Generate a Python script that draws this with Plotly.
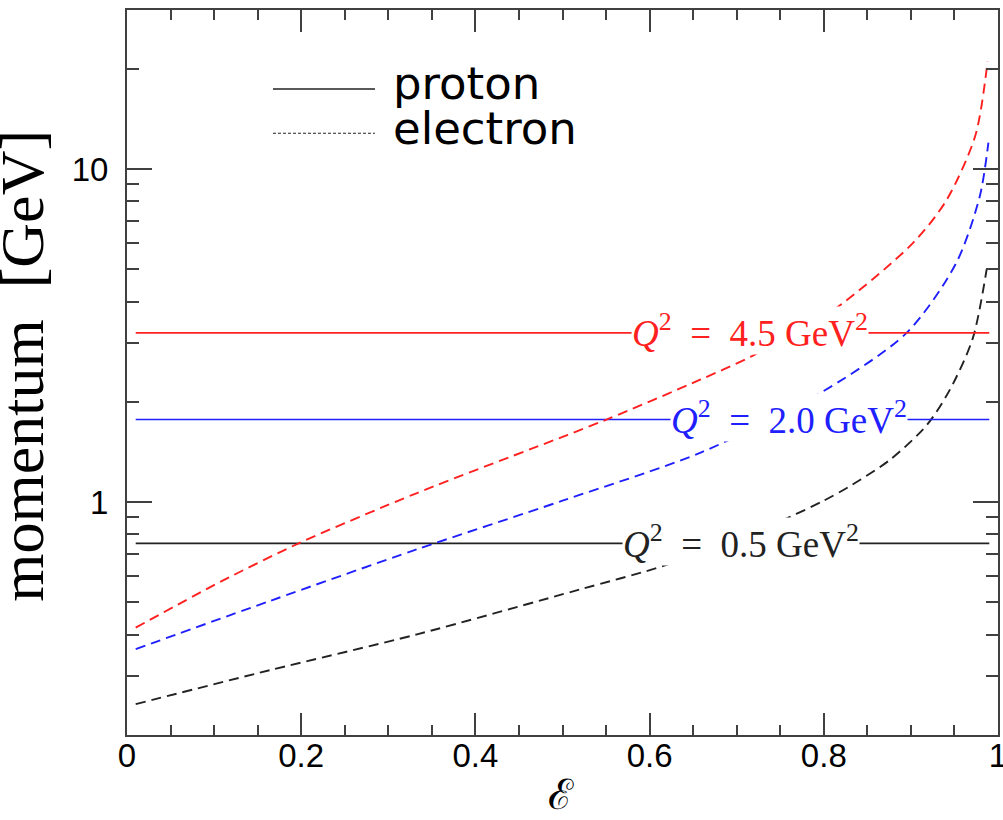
import math
import plotly.graph_objects as go

# ---------------- data ----------------
q2_labels = ["0.5", "2.0", "4.5"]
line_colors = ["#222222", "#2020ff", "#ff2020"]

# proton momentum (GeV), constant in epsilon
proton_eps = [0.01, 0.99]
proton_p = [0.752, 1.77, 3.22]

# electron momentum (GeV) vs epsilon
eps_e_05 = [0.01, 0.164, 0.333, 0.52, 0.621, 0.750, 0.799, 0.830, 0.876, 0.918, 0.945, 0.971, 0.987]
p_e_05 = [0.2476, 0.313, 0.401, 0.547, 0.650, 0.877, 1.007, 1.117, 1.34, 1.70, 2.18, 3.1, 5.0]

eps_e_20 = [0.01, 0.164, 0.333, 0.5, 0.658, 0.790, 0.895, 0.952, 0.979, 0.989]
p_e_20 = [0.362, 0.505, 0.722, 1.01, 1.406, 2.08, 3.22, 5.22, 8.26, 12.0]

eps_e_45 = [0.01, 0.107, 0.199, 0.333, 0.5, 0.5525, 0.658, 0.717, 0.809, 0.9025, 0.941, 0.974, 0.988]
p_e_45 = [0.420, 0.576, 0.756, 1.065, 1.57, 1.778, 2.33, 2.74, 3.74, 6.0, 8.07, 12.6, 21.0]

electron_eps = [eps_e_05, eps_e_20, eps_e_45]
electron_p = [p_e_05, p_e_20, p_e_45]

label_eps = [0.705, 0.760, 0.715]

x_ticks = [0, 0.2, 0.4, 0.6, 0.8, 1]
y_ticks = [1, 10]
y_ticktext = ["1", "10"]
y_minor = [0.3, 0.4, 0.5, 0.6, 0.7, 0.8, 0.9, 2, 3, 4, 5, 6, 7, 8, 9, 20]

# ---------------- figure ----------------
fig = go.Figure()

for i in range(3):
    fig.add_trace(go.Scatter(
        x=proton_eps, y=[proton_p[i]] * len(proton_eps), mode="lines",
        line=dict(color=line_colors[i], width=1.6), showlegend=False))
    fig.add_trace(go.Scatter(
        x=electron_eps[i], y=electron_p[i], mode="lines",
        line=dict(color=line_colors[i], width=1.9, dash="10px,6px", shape="spline", smoothing=0.8),
        showlegend=False))

# Q^2 labels (white box hides the lines beneath, as in the reference)
for i in range(3):
    fig.add_annotation(
        x=label_eps[i], y=math.log10(proton_p[i]), xref="x", yref="y", yshift=2,
        text="<i>Q</i><sup>2</sup>&nbsp; = &nbsp;" + q2_labels[i] + " GeV<sup>2</sup>",
        showarrow=False, bgcolor="white", borderpad=0,
        font=dict(family="Liberation Serif", size=37, color=line_colors[i]))

# legend drawn by hand
legend_items = [("proton", "solid", 0.891, 0.898), ("electron", "3px,2px", 0.830, 0.836)]
for name, dash, yl, yt in legend_items:
    fig.add_shape(type="line", xref="paper", yref="paper", x0=0.1676, x1=0.2847, y0=yl, y1=yl,
                  line=dict(color="#222222", width=1.4 if dash == "solid" else 1.2, dash=dash))
    fig.add_annotation(x=0.3030, y=yt, xref="paper", yref="paper", xanchor="left", yanchor="middle",
                       text=name, showarrow=False,
                       font=dict(family="DejaVu Sans", size=45, color="black"))

# axis titles
fig.add_annotation(x=-0.120, y=0.510, xref="paper", yref="paper", xanchor="center", yanchor="middle",
                   text="momentum &nbsp;[GeV]", textangle=-90, showarrow=False,
                   font=dict(family="Liberation Serif", size=62, color="black"))
fig.add_annotation(x=0.498, y=-0.082, xref="paper", yref="paper", xanchor="center", yanchor="middle",
                   text="ℰ", showarrow=False,
                   font=dict(family="DejaVu Serif", size=42, color="black"))

axis_common = dict(showline=True, linecolor="#404040", linewidth=2, mirror="allticks",
                   ticks="inside", tickcolor="#404040", tickwidth=2, showgrid=False, zeroline=False,
                   ticklabeloverflow="allow", automargin=False,
                   tickfont=dict(family="Liberation Sans", size=33, color="black"))

fig.update_xaxes(range=[0, 1], tickvals=x_ticks, ticklen=22, ticklabelstandoff=-10,
                 minor=dict(dtick=0.05, ticklen=10, tickwidth=2, tickcolor="#404040", ticks="inside"),
                 **axis_common)
fig.update_yaxes(type="log", range=[-0.69897, 1.4771], tickvals=y_ticks, ticktext=y_ticktext, ticklen=25,
                 ticklabelstandoff=10,
                 minor=dict(tickvals=y_minor, ticklen=12, tickwidth=2, tickcolor="#404040", ticks="inside"),
                 **axis_common)

fig.update_layout(width=1003, height=820, margin=dict(l=127, r=5, t=10, b=85),
                  plot_bgcolor="white", paper_bgcolor="white", showlegend=False)

fig.write_html("out.html", config={"displayModeBar": False},
               post_script="document.body.style.margin='0px';document.body.style.overflow='hidden';")
